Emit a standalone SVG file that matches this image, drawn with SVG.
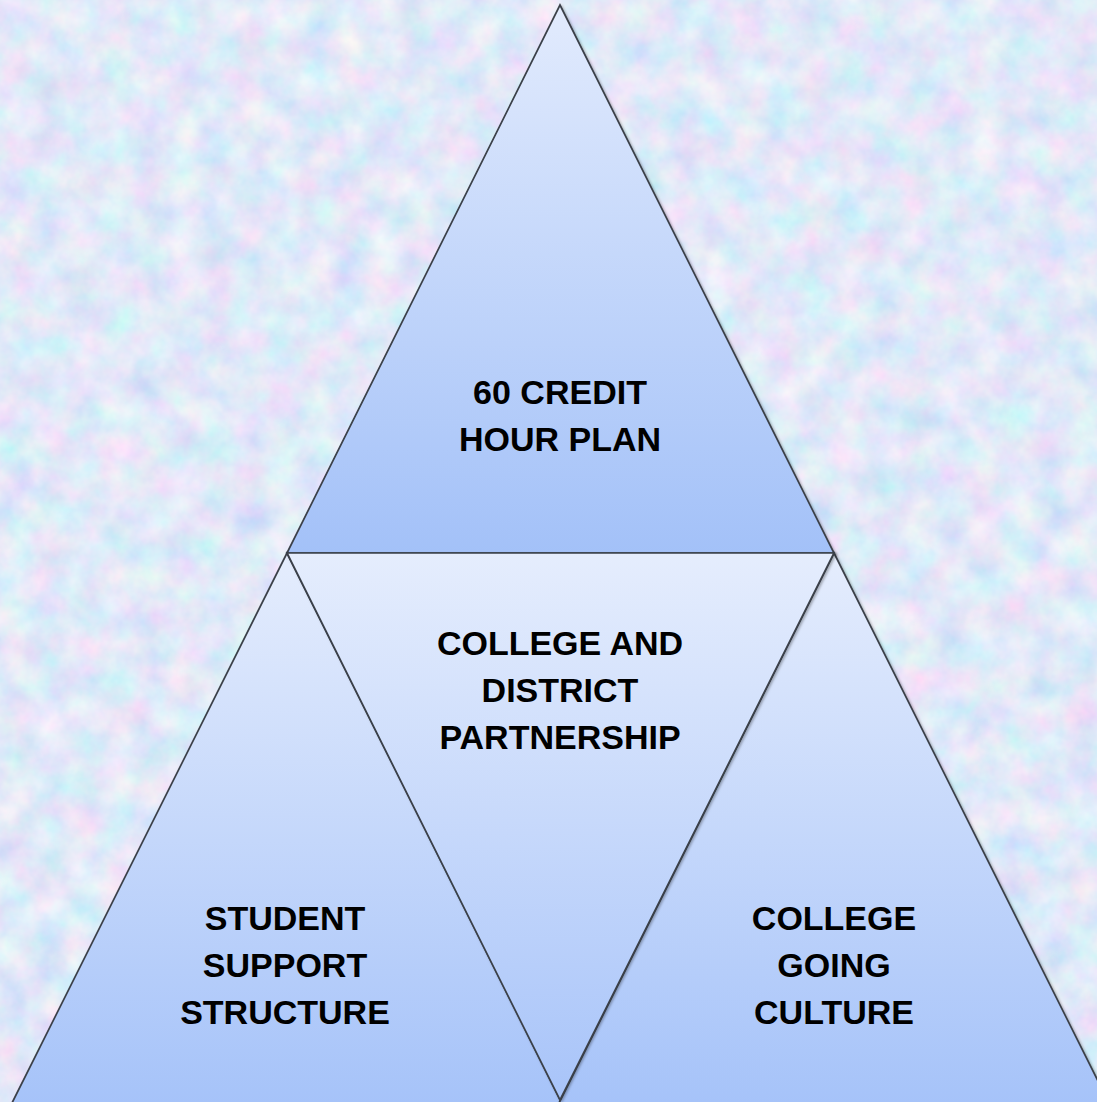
<svg xmlns="http://www.w3.org/2000/svg" width="1097" height="1102" viewBox="0 0 1097 1102">
  <defs>
    <filter id="tex" x="0" y="0" width="100%" height="100%">
      <feTurbulence type="fractalNoise" baseFrequency="0.03" numOctaves="4" seed="7" result="n"/>
      <feColorMatrix in="n" type="matrix" values="0.55 0 0 0 0.48  0 0.35 0 0 0.64  0 0 0.12 0 0.88  0 0 0 0 1"/>
    </filter>
    <linearGradient id="gTop" x1="0" y1="0" x2="0" y2="1">
      <stop offset="0" stop-color="#e2ebfd"/>
      <stop offset="1" stop-color="#a3c1f8"/>
    </linearGradient>
    <linearGradient id="gMid" x1="0" y1="0" x2="0" y2="1">
      <stop offset="0" stop-color="#e5edfd"/>
      <stop offset="1" stop-color="#a8c4f9"/>
    </linearGradient>
    <linearGradient id="gLow" x1="0" y1="0" x2="0" y2="1">
      <stop offset="0" stop-color="#e5edfd"/>
      <stop offset="1" stop-color="#a6c3f9"/>
    </linearGradient>
    <filter id="sh" x="-5%" y="-5%" width="110%" height="110%">
      <feDropShadow dx="1.5" dy="1.5" stdDeviation="1.2" flood-color="#000" flood-opacity="0.3"/>
    </filter>
  </defs>
  <style>
    .tri { stroke: #3a4049; stroke-width: 1.7; stroke-linejoin: miter; filter: url(#sh); }
    .lbl { font-family: "Liberation Sans", Arial, sans-serif; font-weight: bold; font-size: 34px; fill: #000; text-anchor: middle; }
  </style>
  <rect width="1097" height="1102" fill="#c0d4f4"/>
  <rect width="1097" height="1102" filter="url(#tex)"/>
  <g id="connectors"/>
  <g id="node-top">
    <polygon class="tri" points="560,5 834,553 287,553" fill="url(#gTop)"/>
    <text class="lbl" x="560" y="404">60 CREDIT</text>
    <text class="lbl" x="560" y="451">HOUR PLAN</text>
  </g>
  <g id="node-left">
    <polygon class="tri" points="287,553 562,1103 12,1103" fill="url(#gLow)"/>
    <text class="lbl" x="285" y="930">STUDENT</text>
    <text class="lbl" x="285" y="977">SUPPORT</text>
    <text class="lbl" x="285" y="1024">STRUCTURE</text>
  </g>
  <g id="node-right">
    <polygon class="tri" points="834,553 1109,1103 559,1103" fill="url(#gLow)"/>
    <text class="lbl" x="834" y="930">COLLEGE</text>
    <text class="lbl" x="834" y="977">GOING</text>
    <text class="lbl" x="834" y="1024">CULTURE</text>
  </g>
  <g id="node-center">
    <polygon class="tri" points="287,553 834,553 560,1100" fill="url(#gMid)"/>
    <text class="lbl" x="560" y="655">COLLEGE AND</text>
    <text class="lbl" x="560" y="702">DISTRICT</text>
    <text class="lbl" x="560" y="749">PARTNERSHIP</text>
  </g>
</svg>
